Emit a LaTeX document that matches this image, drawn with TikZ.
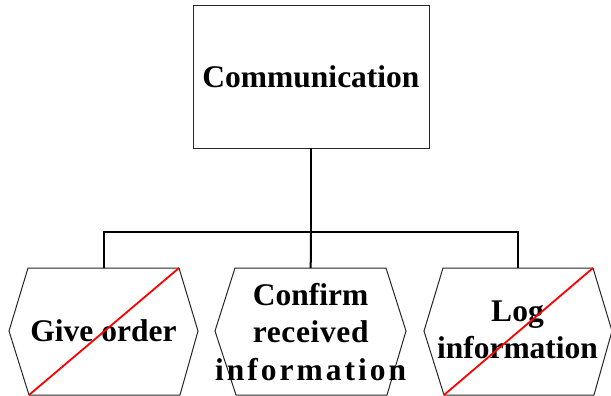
\documentclass[tikz,border=0pt]{standalone}
\usepackage{fontspec}
\setmainfont{Liberation Serif}
\begin{document}
\begin{tikzpicture}[x=1pt,y=-1pt,
  box/.style={draw=black!85,line width=1pt},
  conn/.style={draw=black,line width=2pt},
  cross/.style={draw=red,line width=1.8pt},
  lbl/.style={font=\fontsize{31.5}{37.5}\selectfont\bfseries,align=center,inner sep=0pt}]
\useasboundingbox (0,0) rectangle (611,396);
% top box
\draw[box] (193,6) rectangle (429,148);
\node[lbl] (comm) at (311,77) {Communication};
\coordinate (top) at (311,148);
% hexagons
\draw[box] (28,268) -- (179,268) -- (198,331) -- (180,395) -- (29,395) -- (9,331) -- cycle;
\draw[box] (235,268) -- (386,268) -- (406,331) -- (387,395) -- (236,395) -- (215,331) -- cycle;
\draw[box] (443,268) -- (593,268) -- (612,331) -- (594,395) -- (444,395) -- (424,331) -- cycle;
\coordinate (h1) at (103.5,268);
\coordinate (h2) at (310.7,268);
\coordinate (h3) at (517.5,268);
\node[lbl] (give) at (103.5,331) {Give order};
\node[lbl] (conf) at (310.7,332) {Confirm\\{\addfontfeatures{LetterSpace=2}received}\\{\addfontfeatures{LetterSpace=9.5}information}};
\node[lbl] (log) at (517.5,330) {Log\\information};
% connectors
\coordinate (bar) at (311,232);
\draw[conn] (top) -- (bar);
\draw[conn] (h1) |- (bar) -| (h3);
\draw[conn] (bar) -- (h2);
% red crosses
\draw[cross] (29,395) -- (179,268);
\draw[cross] (444,395) -- (593,268);
\end{tikzpicture}
\end{document}
